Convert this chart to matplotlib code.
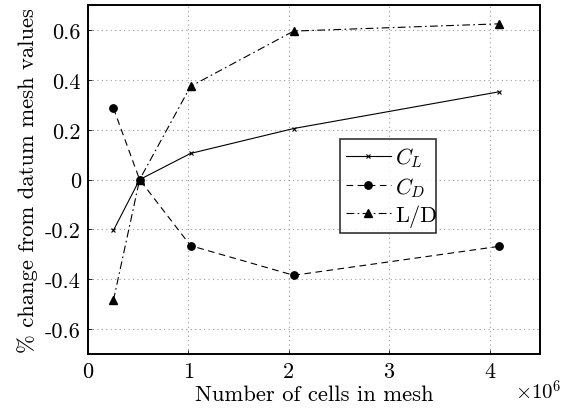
import matplotlib
matplotlib.use("Agg")
import matplotlib.pyplot as plt
from matplotlib.ticker import FuncFormatter

plt.rcParams["font.family"] = "serif"
plt.rcParams["font.serif"] = ["cmr10"]
plt.rcParams["mathtext.fontset"] = "cm"
plt.rcParams["axes.unicode_minus"] = False
plt.rcParams["axes.formatter.use_mathtext"] = True

# mesh sizes (number of cells) and % change from datum mesh
cells = [0.255e6, 0.516e6, 1.023e6, 2.05e6, 4.09e6]
cl = [-0.204, 0.0, 0.105, 0.205, 0.352]
cd = [0.287, 0.0, -0.265, -0.384, -0.268]
ld = [-0.485, 0.0, 0.374, 0.596, 0.625]

fig = plt.figure(figsize=(5.7, 4.1), dpi=100)
ax = fig.add_axes([0.154, 0.134, 0.793, 0.851])

ax.plot(cells, cl, color="k", lw=0.8, ls="-", marker="x", ms=3.5, mew=0.8, label="$C_L$")
ax.plot(cells, cd, color="k", lw=0.8, ls=(0, (6, 4)), marker="o", ms=5.3, label="$C_D$")
ax.plot(cells, ld, color="k", lw=0.8, ls=(0, (7, 3, 1.5, 3)), marker="^", ms=6, label="L/D")

ax.set_xlim(0, 4.5e6)
ax.set_ylim(-0.7, 0.7)
ax.set_xticks([0, 1e6, 2e6, 3e6, 4e6])
ax.set_yticks([-0.6, -0.4, -0.2, 0, 0.2, 0.4, 0.6])
ax.xaxis.set_major_formatter(FuncFormatter(lambda v, p: f"{v / 1e6:g}"))
ax.yaxis.set_major_formatter(FuncFormatter(lambda v, p: f"{v:.1f}" if abs(v) > 1e-9 else "0"))
ax.tick_params(direction="in", length=3, width=0.6, labelsize=16, pad=5)
ax.grid(True, color="0.6", ls=(0, (1, 3)), lw=0.8)
for s in ax.spines.values():
    s.set_linewidth(1.4)

ax.set_xlabel("Number of cells in mesh", fontsize=16.3, labelpad=3)
ax.set_ylabel("% change from datum mesh values", fontsize=16.3, labelpad=5)
ax.text(1.049, -0.07, r"$\times10^6$", transform=ax.transAxes, fontsize=15,
        ha="right", va="top")

leg = ax.legend(loc="lower left", bbox_to_anchor=(0.557, 0.346, 0.214, 0.268),
                mode="expand", fontsize=16, frameon=True, fancybox=False,
                edgecolor="k", handlelength=2.0, handletextpad=0.2,
                borderpad=0.3, labelspacing=0.25, borderaxespad=0)
leg.get_frame().set_linewidth(1.2)

fig.savefig("out.png", dpi=100)
